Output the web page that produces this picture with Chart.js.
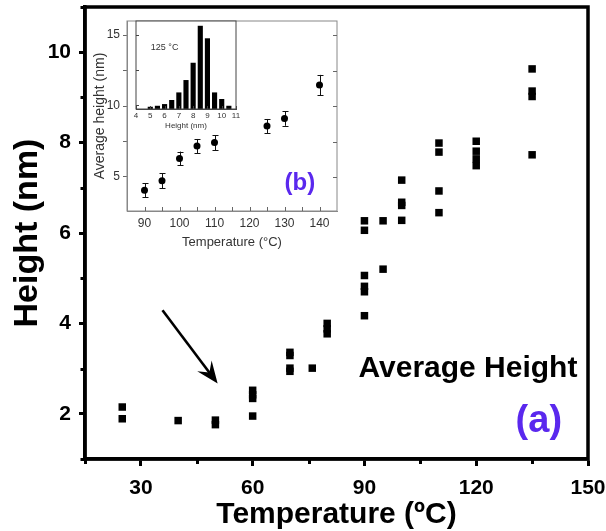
<!DOCTYPE html>
<html><head><meta charset="utf-8">
<script src="https://cdn.jsdelivr.net/npm/chart.js"></script>
<style>
html,body{margin:0;padding:0;background:#fff;}
#wrap{position:relative;width:606px;height:531px;overflow:hidden;background:#fff;}
#wrap canvas{position:absolute;left:0;top:0;}
</style></head><body>
<div id="wrap">
<canvas id="main" width="606" height="531"></canvas>
<canvas id="inset" width="606" height="531"></canvas>
<canvas id="hist" width="606" height="531"></canvas>
</div>
<script>
// ---------- main chart (a) data ----------
const mainTemperature = [25,25,40,50,50,60,60,60,60,70,70,70,70,76,80,80,80,
  90,90,90,90,90,90,95,95,100,100,100,100,110,110,110,110,120,120,120,120,135,135,135,135];
const mainHeight = [2.15,1.89,1.85,1.86,1.76,2.52,2.42,2.34,1.95,3.36,3.29,3.01,2.94,3.01,4.0,3.88,3.77,
  6.27,6.06,5.06,4.82,4.70,4.17,6.27,5.20,7.17,6.68,6.61,6.28,7.99,7.79,6.93,6.45,8.03,7.81,7.64,7.49,9.63,9.14,9.02,7.73];
const mainXTicks = [15,30,45,60,75,90,105,120,135,150];
const mainXLabels = [30,60,90,120,150];
const mainYTicks = [1,2,3,4,5,6,7,8,9,10,11];
const mainYLabels = [2,4,6,8,10];

// ---------- inset (b) data ----------
const insetTemperature = [90,95,100,105,110,125,130,140];
const insetAvgHeight = [4.07,4.73,6.30,7.18,7.43,8.59,9.13,11.48];
const insetError = [0.49,0.53,0.49,0.50,0.53,0.50,0.52,0.72];
const insetXTicks = [90,95,100,105,110,115,120,125,130,135,140];
const insetXLabels = [90,100,110,120,130,140];
const insetYTicks = [5,7.5,10,12.5,15];
const insetYLabels = [5,10,15];

// ---------- histogram (125 °C) data ----------
const histHeightBins = [5,5.5,6,6.5,7,7.5,8,8.5,9,9.5,10,10.5];
const histBarTop = [9.9,9.97,10.09,10.38,10.92,11.8,13.03,15.66,14.77,10.92,10.45,9.97];
const histBase = 9.74;
const histXTicks = [4,5,6,7,8,9,10,11];
const histYTicks = [10,12.5,15];

Chart.defaults.font.family = "'Liberation Sans', Arial, sans-serif";
Chart.defaults.animation = false;
Chart.defaults.devicePixelRatio = 1;

const FONT = "'Liberation Sans', Arial, sans-serif";
const PURPLE = '#5a28ee';

function fixBox(size, horizontal){
  return function(s){
    if (horizontal) s.height = size; else s.width = size;
    s.paddingTop = 0; s.paddingBottom = 0; s.paddingLeft = 0; s.paddingRight = 0;
  };
}
function setTicks(list){
  return function(s){ s.ticks = list.map(v => ({value: v})); };
}
function labelIf(list){
  return function(v){ return list.includes(v) ? String(v) : ''; };
}
function majorColor(list){
  return function(c){ return (c.tick && list.includes(c.tick.value)) ? '#000' : 'rgba(0,0,0,0)'; };
}
function framePlugin(color, width){
  return {
    id: 'frame',
    afterDraw(chart){
      const {ctx, chartArea: a} = chart;
      ctx.save();
      ctx.strokeStyle = color; ctx.lineWidth = width;
      ctx.strokeRect(a.left, a.top, a.right - a.left, a.bottom - a.top);
      ctx.restore();
    }
  };
}
function whiteBg(){
  return {
    id: 'whiteBg',
    beforeDraw(chart){
      const {ctx, chartArea: a} = chart;
      ctx.save(); ctx.fillStyle = '#fff';
      ctx.fillRect(a.left, a.top, a.right - a.left, a.bottom - a.top);
      ctx.restore();
    }
  };
}
// tick marks drawn from scale positions (inside: positive len, outside: negative len)
function extraTicks(specs, color, width){
  return {
    id: 'extraTicks',
    afterDraw(chart){
      const {ctx, chartArea: a, scales} = chart;
      ctx.save(); ctx.strokeStyle = color; ctx.lineWidth = width;
      ctx.beginPath();
      for (const sp of specs){
        const s = scales[sp.scale];
        for (const v of sp.values){
          const p = Math.round(s.getPixelForValue(v)) + (width % 2 ? 0.5 : 0);
          const o = sp.offset || 0;
          if (sp.side === 'bottom'){ ctx.moveTo(p, a.bottom + o); ctx.lineTo(p, a.bottom + o - sp.len); }
          if (sp.side === 'left'){ ctx.moveTo(a.left - o, p); ctx.lineTo(a.left - o + sp.len, p); }
          if (sp.side === 'right'){ ctx.moveTo(a.right, p); ctx.lineTo(a.right - sp.len, p); }
        }
      }
      ctx.stroke();
      ctx.restore();
    }
  };
}

// ---------- annotations of main chart (data coordinates) ----------
const arrowFrom = {x: 35.8, y: 4.29};
const arrowTo = {x: 50.6, y: 2.67};
const avgLabelAt = {x: 88.4, y: 2.81};
const panelALabelAt = {x: 136.8, y: 1.59};

const mainNotes = {
  id: 'mainNotes',
  afterDraw(chart){
    const {ctx, scales: {x, y}} = chart;
    const x0 = x.getPixelForValue(arrowFrom.x), y0 = y.getPixelForValue(arrowFrom.y);
    const x1 = x.getPixelForValue(arrowTo.x), y1 = y.getPixelForValue(arrowTo.y);
    const dx = x1 - x0, dy = y1 - y0, len = Math.hypot(dx, dy);
    const ux = dx / len, uy = dy / len, nx = -uy, ny = ux;
    const L = 22, W = 9;
    ctx.save();
    ctx.strokeStyle = '#000'; ctx.lineWidth = 2.6; ctx.lineCap = 'butt';
    ctx.beginPath(); ctx.moveTo(x0, y0); ctx.lineTo(x1 - ux * L * 0.6, y1 - uy * L * 0.6); ctx.stroke();
    ctx.fillStyle = '#000';
    ctx.beginPath();
    ctx.moveTo(x1, y1);
    ctx.lineTo(x1 - ux * L + nx * W, y1 - uy * L + ny * W);
    ctx.lineTo(x1 - ux * L * 0.62, y1 - uy * L * 0.62);
    ctx.lineTo(x1 - ux * L - nx * W, y1 - uy * L - ny * W);
    ctx.closePath(); ctx.fill();

    ctx.font = 'bold 30px ' + FONT; ctx.fillStyle = '#000';
    ctx.textAlign = 'left'; ctx.textBaseline = 'alphabetic';
    ctx.fillText('Average Height', x.getPixelForValue(avgLabelAt.x), y.getPixelForValue(avgLabelAt.y));
    ctx.font = 'bold 38px ' + FONT; ctx.fillStyle = PURPLE; ctx.textAlign = 'center';
    ctx.fillText('(a)', x.getPixelForValue(panelALabelAt.x), y.getPixelForValue(panelALabelAt.y));
    ctx.restore();
  }
};

const mainXMinor = mainXTicks.filter(v => !mainXLabels.includes(v));
const mainYMinor = mainYTicks.filter(v => !mainYLabels.includes(v));

new Chart(document.getElementById('main'), {
  type: 'scatter',
  data: {
    datasets: [{
      data: mainTemperature.map((t, i) => ({x: t, y: mainHeight[i]})),
      pointStyle: 'rect', pointRadius: 5.3, pointHoverRadius: 5.3,
      backgroundColor: '#000', borderWidth: 0
    }]
  },
  options: {
    responsive: false,
    layout: {padding: {top: 7, right: 18, left: 0, bottom: 0}},
    plugins: {legend: {display: false}, tooltip: {enabled: false}},
    scales: {
      x: {
        type: 'linear', min: 15, max: 150,
        afterBuildTicks: setTicks(mainXTicks),
        afterFit: fixBox(72, true),
        ticks: {callback: labelIf(mainXLabels), autoSkip: false, maxRotation: 0, color: '#000',
                font: {size: 21, weight: 'bold'}, padding: 10},
        grid: {drawOnChartArea: false, drawTicks: true, tickLength: 7, tickWidth: 3, tickColor: majorColor(mainXLabels)},
        border: {display: true, color: '#000', width: 3.5},
        title: {display: true, text: 'Temperature (ºC)', color: '#000', font: {size: 30, weight: 'bold', lineHeight: 1.1}, padding: 0}
      },
      y: {
        type: 'linear', min: 1, max: 11,
        afterBuildTicks: setTicks(mainYTicks),
        afterFit: fixBox(85, false),
        ticks: {callback: labelIf(mainYLabels), autoSkip: false, color: '#000',
                font: {size: 21, weight: 'bold'}, padding: 8},
        grid: {drawOnChartArea: false, drawTicks: true, tickLength: 6, tickWidth: 3, tickColor: majorColor(mainYLabels)},
        border: {display: true, color: '#000', width: 3.5},
        title: {display: true, text: 'Height (nm)', color: '#000', font: {size: 34, weight: 'bold'}, padding: {top: 7}}
      }
    }
  },
  plugins: [framePlugin('#000', 3.5), mainNotes,
    extraTicks([{scale: 'x', side: 'bottom', len: -5, values: mainXMinor},
                {scale: 'y', side: 'left', len: -4.5, values: mainYMinor}], '#000', 3)]
});

// ---------- inset (b) ----------
const panelBLabelAt = {x: 134.4, y: 4.52};
const errorBars = {
  id: 'errorBars',
  beforeDatasetsDraw(chart){
    const {ctx, scales: {x, y}} = chart;
    ctx.save(); ctx.strokeStyle = '#111'; ctx.lineWidth = 1;
    ctx.beginPath();
    insetTemperature.forEach((t, i) => {
      const px = Math.round(x.getPixelForValue(t)) + 0.5;
      const yTop = y.getPixelForValue(insetAvgHeight[i] + insetError[i]);
      const yBot = y.getPixelForValue(insetAvgHeight[i] - insetError[i]);
      ctx.moveTo(px, yTop); ctx.lineTo(px, yBot);
      ctx.moveTo(px - 3, Math.round(yTop) + 0.5); ctx.lineTo(px + 3, Math.round(yTop) + 0.5);
      ctx.moveTo(px - 3, Math.round(yBot) + 0.5); ctx.lineTo(px + 3, Math.round(yBot) + 0.5);
    });
    ctx.stroke();
    ctx.restore();
  },
  afterDraw(chart){
    const {ctx, scales: {x, y}} = chart;
    ctx.save();
    ctx.font = 'bold 24px ' + FONT; ctx.fillStyle = PURPLE;
    ctx.textAlign = 'center'; ctx.textBaseline = 'middle';
    ctx.fillText('(b)', x.getPixelForValue(panelBLabelAt.x), y.getPixelForValue(panelBLabelAt.y));
    ctx.restore();
  }
};

new Chart(document.getElementById('inset'), {
  type: 'scatter',
  data: {
    datasets: [{
      data: insetTemperature.map((t, i) => ({x: t, y: insetAvgHeight[i]})),
      pointStyle: 'circle', pointRadius: 3.5, pointHoverRadius: 3.5,
      backgroundColor: '#000', borderWidth: 0
    }]
  },
  options: {
    responsive: false,
    layout: {padding: {left: 85, top: 21, right: 269, bottom: 280}},
    plugins: {legend: {display: false}, tooltip: {enabled: false}},
    scales: {
      x: {
        type: 'linear', min: 85, max: 145,
        afterBuildTicks: setTicks(insetXTicks),
        afterFit: fixBox(40, true),
        ticks: {callback: labelIf(insetXLabels), autoSkip: false, maxRotation: 0, color: '#333',
                font: {size: 12}, padding: 5},
        grid: {drawOnChartArea: false, drawTicks: false},
        border: {display: true, color: '#888', width: 1},
        title: {display: true, text: 'Temperature (°C)', color: '#333', font: {size: 13}, padding: 1}
      },
      y: {
        type: 'linear', min: 2.6, max: 16,
        afterBuildTicks: setTicks(insetYTicks),
        afterFit: fixBox(42, false),
        ticks: {callback: labelIf(insetYLabels), autoSkip: false, color: '#333',
                font: {size: 12}, padding: 3},
        grid: {drawOnChartArea: false, drawTicks: true, tickLength: 4, tickWidth: 1, tickColor: '#666'},
        border: {display: true, color: '#888', width: 1},
        title: {display: true, text: 'Average height (nm)', color: '#333', font: {size: 14}, padding: {top: 7}}
      }
    }
  },
  plugins: [whiteBg(), framePlugin('#888', 1), errorBars,
    extraTicks([{scale: 'x', side: 'bottom', len: 4, values: insetXTicks},
                {scale: 'y', side: 'right', len: 4, values: insetYTicks}], '#666', 1)]
});

// ---------- histogram inside the inset ----------
const histNoteAt = {x: 6.0, y: 14.1};
const histNote = {
  id: 'histNote',
  afterDraw(chart){
    const {ctx, scales: {x, y}} = chart;
    ctx.save();
    ctx.font = '9px ' + FONT; ctx.fillStyle = '#333';
    ctx.textAlign = 'center'; ctx.textBaseline = 'middle';
    ctx.fillText('125 °C', x.getPixelForValue(histNoteAt.x), y.getPixelForValue(histNoteAt.y));
    ctx.restore();
  }
};

new Chart(document.getElementById('hist'), {
  type: 'bar',
  data: {
    datasets: [{
      data: histHeightBins.map((h, i) => ({x: h, y: histBarTop[i]})),
      base: histBase,
      backgroundColor: '#000', borderWidth: 0,
      barPercentage: 0.72, categoryPercentage: 1
    }]
  },
  options: {
    responsive: false,
    layout: {padding: {left: 136, top: 21, right: 370, bottom: 400}},
    plugins: {legend: {display: false}, tooltip: {enabled: false}},
    scales: {
      x: {
        type: 'linear', min: 4, max: 11, offset: false,
        afterBuildTicks: setTicks(histXTicks),
        afterFit: fixBox(22, true),
        ticks: {callback: v => String(v), autoSkip: false, maxRotation: 0, color: '#333',
                font: {size: 8}, padding: 2},
        grid: {drawOnChartArea: false, drawTicks: false},
        border: {display: true, color: '#444', width: 1},
        title: {display: true, text: 'Height (nm)', color: '#333', font: {size: 8}, padding: 0}
      },
      y: {
        type: 'linear', min: histBase, max: 16, display: false
      }
    }
  },
  plugins: [whiteBg(), framePlugin('#444', 1), histNote,
    extraTicks([{scale: 'x', side: 'bottom', len: 3, values: histXTicks},
                {scale: 'y', side: 'left', len: 3, values: histYTicks}], '#444', 1)]
});
</script>
</body></html>
